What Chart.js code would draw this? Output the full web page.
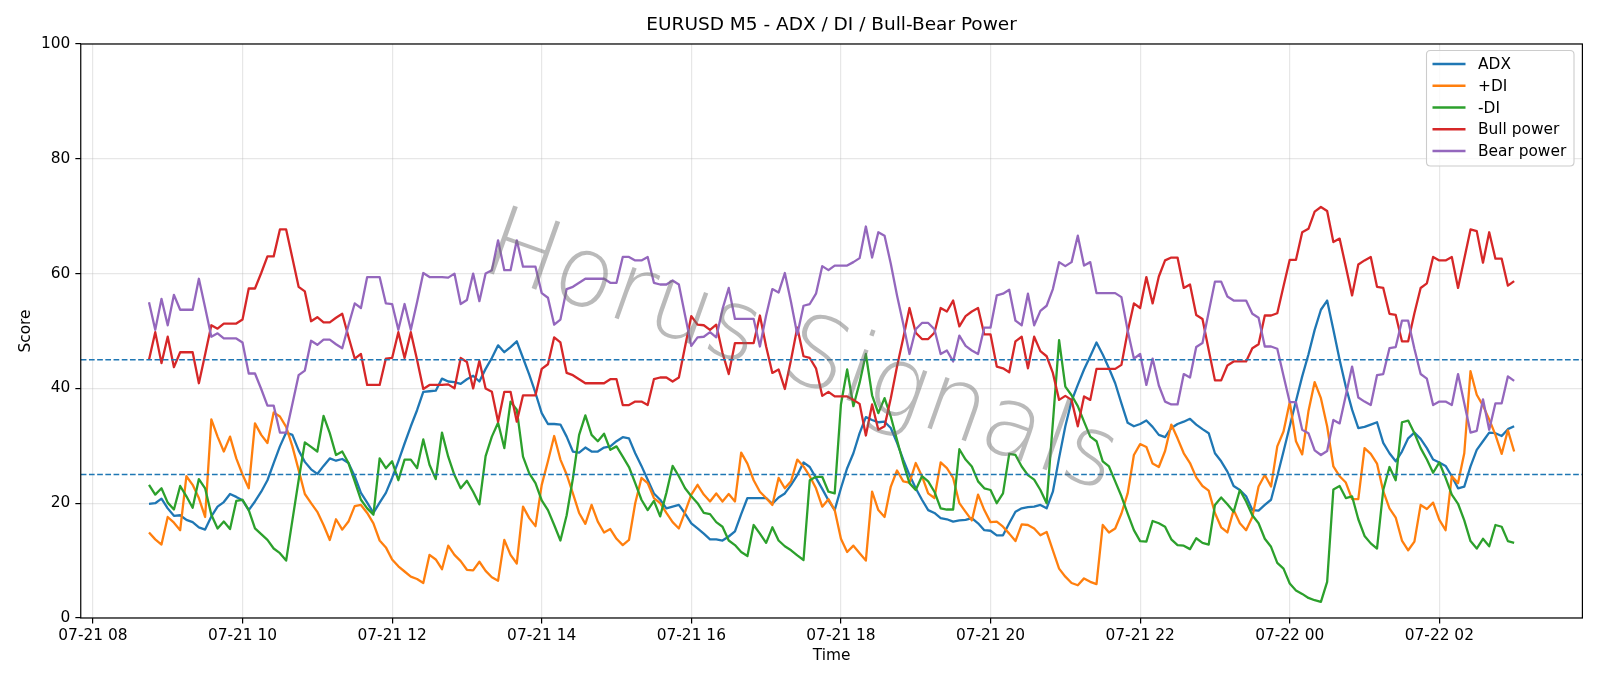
<!DOCTYPE html>
<html><head><meta charset="utf-8">
<script src="https://cdn.jsdelivr.net/npm/chart.js@4.4.0/dist/chart.umd.min.js"></script>
<style>
html,body{margin:0;padding:0;background:#fff;}#wrap{width:1600px;height:686px;}
@font-face{font-family:'WMThin';src:local('DejaVu Sans ExtraLight'),local('DejaVuSans-ExtraLight'),local('Roboto Thin'),local('Roboto-Thin'),local('Lato Hairline'),local('Lato-Hairline'),local('Lato Thin'),local('Lato-Thin'),local('Inter Thin'),local('Inter-Thin'),local('Noto Sans Thin'),local('NotoSans-Thin'),local('Noto Sans ExtraLight'),local('NotoSans-ExtraLight'),local('Open Sans Light'),local('OpenSans-Light'),local('Roboto Light'),local('Roboto-Light'),local('Lato Light'),local('Lato-Light');}
</style>
</head><body><div id="wrap"><canvas id="c" width="1600" height="686"></canvas></div>
<script>
// minutes from 07-21 00:00; first bar 07-21 08:45, 5-minute bars
const startMinute = 525;
const stepMinutes = 5;

const adx = [19.9,20,20.8,19.1,17.8,17.9,17.1,16.7,15.8,15.4,17.7,19.4,20.2,21.6,21.1,20.5,18.8,20.3,22,24,27,29.9,32.3,31.9,29.2,27.2,25.9,25.1,26.5,27.8,27.4,27.7,27,24.7,21.8,20.1,18.3,20.1,21.8,24.4,27.3,30.4,33.4,36.2,39.4,39.5,39.6,41.7,41.2,41.1,40.8,41.6,42.2,41.2,43.4,45.3,47.5,46.3,47.2,48.2,45.3,42.4,39.2,35.7,33.8,33.8,33.7,31.6,29,28.8,29.7,29,29,29.7,29.9,30.8,31.5,31.3,28.7,26.5,24.1,21.7,20.6,19.1,19.4,19.7,18.2,16.5,15.6,14.7,13.7,13.7,13.5,14.2,15.1,18.1,20.9,20.9,20.9,20.9,19.9,21,21.7,23.2,24.9,27.1,26.3,24.4,22.5,20.5,18.8,22.6,26.1,28.7,32.2,35,34.5,34.1,34.2,33.1,30.5,27.6,24.9,22.6,20.6,18.8,18.3,17.4,17.2,16.8,17,17.1,17.4,16.5,15.3,15.2,14.4,14.4,16.5,18.5,19.1,19.3,19.4,19.7,19.1,22,27.9,33.4,37.8,40.6,43.3,45.6,48,45.9,43.5,40.9,37.4,34,33.4,33.8,34.4,33.3,31.9,31.5,33.1,33.8,34.2,34.7,33.7,32.9,32.2,28.7,27.3,25.5,23,22.3,21.2,18.8,18.7,19.7,20.6,24.7,29,33.4,37.8,42.1,45.9,50.2,53.7,55.3,50.2,45,40.3,36.3,33.1,33.3,33.7,34.1,30.5,28.7,27.3,29,31.3,32.3,31.2,29.6,27.6,27.1,26.5,24.7,22.6,22.9,26.4,29.3,30.8,32.3,32.2,31.7,32.9,33.4];

const plusDI = [14.9,13.7,12.8,17.6,16.6,15.3,24.7,23.2,20.9,17.6,34.6,31.6,29,31.6,27.8,25,22.6,33.9,31.9,30.5,35.8,35.1,33.3,29.9,25.8,21.6,20,18.5,16.2,13.6,17.2,15.4,16.8,19.5,19.7,18.3,16.5,13.5,12.3,10.2,9,8.1,7.2,6.8,6.1,11,10.2,8.5,12.6,11,9.9,8.4,8.3,9.8,8.2,7.1,6.5,13.6,11,9.5,19.4,17.4,16,23.2,27.3,31.7,27.6,25,21.7,18.3,16.4,19.7,16.8,14.9,15.5,13.8,12.7,13.6,20,24.4,23.5,20.9,20,18.3,16.7,15.6,18.5,21.5,23.2,21.5,20.3,21.7,20.3,21.6,20.3,28.8,26.9,24,22,20.9,19.7,24.4,22.6,23.8,27.6,26.4,24.7,22.6,19.4,20.7,18.8,13.8,11.5,12.6,11.3,10,22,18.8,17.6,22.9,25.7,23.8,23.6,27,24.7,21.7,20.9,27.1,26.1,24.4,20,18.5,17,21.5,18.8,16.7,16.8,15.9,14.7,13.4,16.3,16.2,15.6,14.4,15,11.8,8.6,7.2,6.1,5.7,6.9,6.3,5.9,16.2,14.9,15.6,18.2,21.7,28.4,30.3,29.8,26.9,26.3,29.1,33.7,31.3,28.7,27,24.5,23,22.2,18.3,15.8,14.9,18.8,16.5,15.3,17.6,22.9,24.9,22.9,29.9,32.5,37.6,30.8,28.5,36,41.1,38.3,33.4,26.4,24.7,23.6,20.7,20.7,29.6,28.6,26.9,22.1,19.1,17.5,13.5,11.8,13.3,19.7,19,20.1,17.1,15.3,24.7,23.5,28.7,43,38.9,37,34.6,31.9,28.6,32.7,29];

const minusDI = [23.2,21.5,22.6,20.1,18.9,23,21.2,19.2,24.2,22.6,18,15.6,16.8,15.5,20.4,20.6,18.8,15.6,14.6,13.6,12.1,11.3,10,17,24,30.6,29.8,29,35.2,32.2,28.4,29,27,23.8,20.6,19.1,18,27.8,26.1,27.3,24,27.6,27.6,26.1,31.1,26.7,24.2,32.3,28.1,24.9,22.6,23.9,22,19.8,28.2,31.6,34,29.6,37.7,36.3,28.1,25.2,23.5,20.5,18.8,16.2,13.5,17.9,24.3,31.9,35.3,31.9,30.8,32.1,29.3,29.9,28.1,26.3,23.5,20.6,18.8,20.4,17.7,21.8,26.5,24.7,22.6,21.2,20,18.3,18.1,16.7,15.9,13.5,12.7,11.5,10.8,16.2,14.7,13.1,15.8,13.5,12.5,11.8,10.9,10.1,24,24.6,24.6,22,21.7,37.2,43.3,36.9,41,46,38.8,35.7,38.3,35.1,31,27,23.5,22.3,24.7,23.8,22,19.1,18.9,18.9,29.4,27.6,26.4,23.8,22.6,22.3,20,21.7,28.6,28.4,26.4,24.9,24.1,22.3,20,34,48.4,40.3,38.8,36.9,34.2,31.6,30.8,27.3,26.4,23.8,21.2,18.2,15.3,13.4,13.3,16.9,16.5,15.9,13.7,12.7,12.6,12,13.9,13.1,12.8,19.7,21,19.8,18.5,22.3,20.3,17.9,16.5,13.8,12.4,9.6,8.6,6,4.8,4.2,3.5,3.1,2.8,6.3,22.4,23,20.9,21.2,17.2,14.3,13,12.1,22.3,26.3,24,34.1,34.4,32.2,29.6,27.6,25.3,27.1,24.4,21.5,19.9,17,13.4,12.1,13.8,12.5,16.2,15.9,13.4,13.1];

const bullPower = [45,49.8,44.4,49,43.7,46.3,46.3,46.3,40.9,45.9,51,50.4,51.3,51.3,51.3,52,57.4,57.4,60.1,63,63,67.7,67.7,62.7,57.7,56.9,51.7,52.4,51.5,51.5,52.3,53,49,45.2,46,40.6,40.6,40.6,45.2,45.3,49.8,45.3,49.8,45,39.9,40.6,40.6,40.6,40.7,40,45.3,44.6,40,44.8,40,39.4,34.2,39.4,39.4,34.2,38.8,38.8,38.8,43.4,44.2,48.9,48,42.7,42.3,41.6,40.9,40.9,40.9,40.9,41.6,41.6,37.1,37.1,37.7,37.7,37.1,41.6,41.9,41.9,41.2,41.9,47.3,52.6,51.1,51,50.2,51.1,46.2,42.5,47.9,47.9,47.9,47.9,52.7,47.3,42.7,43.3,39.9,45,50.6,45.6,45.3,43.5,38.7,39.4,38.6,38.6,38.6,38,37.3,31.8,37.2,32.8,33.4,38.3,43.8,48.8,54,49.7,48.6,48.6,49.7,54,53.4,55.3,50.8,52.6,53.4,54,49.4,49.4,43.8,43.5,42.8,48.2,49,43.5,49,46.5,45.6,42.7,38,38.7,38,33.4,38.6,38,43.4,43.4,43.4,43.4,44.1,49.9,54.8,54,59.4,54.8,59.5,62.3,62.8,62.8,57.5,58.1,52.8,52.1,46.7,41.4,41.4,44,44.7,44.7,44.7,47,47.7,52.7,52.7,53.1,57.8,62.4,62.4,67.2,67.8,70.8,71.6,70.9,65.5,66.1,61.2,56.2,61.6,62.3,62.9,57.7,57.5,53,52.8,48.2,48.2,53.1,57.5,58.3,62.9,62.3,62.3,62.9,57.5,62.6,67.7,67.4,61.9,67.2,62.6,62.6,57.9,58.7];

const bearPower = [55,50.2,55.6,51,56.3,53.7,53.7,53.7,59.1,54.1,49,49.6,48.7,48.7,48.7,48,42.6,42.6,39.9,37,37,32.3,32.3,37.3,42.3,43.1,48.3,47.6,48.5,48.5,47.7,47,51,54.8,54,59.4,59.4,59.4,54.8,54.7,50.2,54.7,50.2,55,60.1,59.4,59.4,59.4,59.3,60,54.7,55.4,60,55.2,60,60.6,65.8,60.6,60.6,65.8,61.2,61.2,61.2,56.6,55.8,51.1,52,57.3,57.7,58.4,59.1,59.1,59.1,59.1,58.4,58.4,62.9,62.9,62.3,62.3,62.9,58.4,58.1,58.1,58.8,58.1,52.7,47.4,48.9,49,49.8,48.9,53.8,57.5,52.1,52.1,52.1,52.1,47.3,52.7,57.3,56.7,60.1,55,49.4,54.4,54.7,56.5,61.3,60.6,61.4,61.4,61.4,62,62.7,68.2,62.8,67.2,66.6,61.7,56.2,51.2,46,50.3,51.4,51.4,50.3,46,46.6,44.7,49.2,47.4,46.6,46,50.6,50.6,56.2,56.5,57.2,51.8,51,56.5,51,53.5,54.4,57.3,62,61.3,62,66.6,61.4,62,56.6,56.6,56.6,56.6,55.9,50.1,45.2,46,40.6,45.2,40.5,37.7,37.2,37.2,42.5,41.9,47.2,47.9,53.3,58.6,58.6,56,55.3,55.3,55.3,53,52.3,47.3,47.3,46.9,42.2,37.6,37.6,32.8,32.2,29.2,28.4,29.1,34.5,33.9,38.8,43.8,38.4,37.7,37.1,42.3,42.5,47,47.2,51.8,51.8,46.9,42.5,41.7,37.1,37.7,37.7,37.1,42.5,37.4,32.3,32.6,38.1,32.8,37.4,37.4,42.1,41.3];

const seriesNames = ["ADX", "+DI", "-DI", "Bull power", "Bear power"];
const seriesColors = ["#1f77b4", "#ff7f0e", "#2ca02c", "#d62728", "#9467bd"];
const tickMinutes = [480, 600, 720, 840, 960, 1080, 1200, 1320, 1440, 1560];
const tickLabels = ["07-21 08", "07-21 10", "07-21 12", "07-21 14", "07-21 16", "07-21 18", "07-21 20", "07-21 22", "07-22 00", "07-22 02"];
const yTicks = [0, 20, 40, 60, 80, 100];
const thresholds = [45, 25];
const titleText = "EURUSD M5 - ADX / DI / Bull-Bear Power";
const xTitle = "Time";
const yTitle = "Score";
const watermark = "Horus Signals";

const FONT = "'DejaVu Sans', 'Liberation Sans', sans-serif";
const series = [adx, plusDI, minusDI, bullPower, bearPower];
const times = adx.map((_, i) => startMinute + i * stepMinutes);
const xMin = 470.25, xMax = 1674.75;

const deco = {
  id: 'deco',
  afterDatasetsDraw(chart) {
    const {ctx, chartArea: a, scales: {y}} = chart;
    ctx.save();
    ctx.beginPath(); ctx.rect(a.left, a.top, a.right - a.left, a.bottom - a.top); ctx.clip();
    ctx.strokeStyle = '#1f77b4'; ctx.lineWidth = 1.5; ctx.setLineDash([5.7, 2.5]);
    thresholds.forEach(v => {
      const py = y.getPixelForValue(v);
      ctx.beginPath(); ctx.moveTo(a.left, py); ctx.lineTo(a.right, py); ctx.stroke();
    });
    ctx.restore();
  },
  afterDraw(chart) {
    const {ctx, chartArea: a} = chart;
    // watermark (thin font, scaled to the reference's text length)
    ctx.save();
    ctx.font = `100px WMThin, 'DejaVu Sans'`;
    const w100 = ctx.measureText(watermark).width;
    const fs = 100 * 668 / w100;
    ctx.font = `${fs}px WMThin, 'DejaVu Sans'`;
    ctx.translate(800, 356);
    ctx.rotate(19.5 * Math.PI / 180);
    ctx.fillStyle = 'rgba(110,110,110,0.48)';
    ctx.textAlign = 'center'; ctx.textBaseline = 'middle';
    ctx.fillText(watermark, 0, 0);
    ctx.restore();
    // frame
    ctx.save();
    ctx.strokeStyle = '#000'; ctx.lineWidth = 1.2;
    ctx.strokeRect(a.left, a.top, a.right - a.left, a.bottom - a.top);
    ctx.restore();
    // title and axis titles
    ctx.save();
    ctx.fillStyle = '#000'; ctx.textAlign = 'center'; ctx.textBaseline = 'middle';
    ctx.font = `18.5px ${FONT}`;
    ctx.fillText(titleText, (a.left + a.right) / 2, 25.5);
    ctx.font = `15.4px ${FONT}`;
    ctx.fillText(xTitle, (a.left + a.right) / 2, 656);
    ctx.translate(25.5, (a.top + a.bottom) / 2);
    ctx.rotate(-Math.PI / 2);
    ctx.fillText(yTitle, 0, 0);
    ctx.restore();
    // legend
    ctx.save();
    const bx = 1426.5, by = 50.5, bw = 147.5, bh = 115.5, r = 4;
    ctx.beginPath();
    ctx.moveTo(bx + r, by); ctx.lineTo(bx + bw - r, by); ctx.quadraticCurveTo(bx + bw, by, bx + bw, by + r);
    ctx.lineTo(bx + bw, by + bh - r); ctx.quadraticCurveTo(bx + bw, by + bh, bx + bw - r, by + bh);
    ctx.lineTo(bx + r, by + bh); ctx.quadraticCurveTo(bx, by + bh, bx, by + bh - r);
    ctx.lineTo(bx, by + r); ctx.quadraticCurveTo(bx, by, bx + r, by); ctx.closePath();
    ctx.fillStyle = 'rgba(255,255,255,0.8)'; ctx.fill();
    ctx.strokeStyle = '#cccccc'; ctx.lineWidth = 1.1; ctx.stroke();
    ctx.font = `15.4px ${FONT}`; ctx.textBaseline = 'middle'; ctx.textAlign = 'left';
    seriesNames.forEach((n, k) => {
      const yy = 64 + k * 21.75;
      ctx.strokeStyle = seriesColors[k]; ctx.lineWidth = 2.3;
      ctx.beginPath(); ctx.moveTo(1432.5, yy); ctx.lineTo(1465.5, yy); ctx.stroke();
      ctx.fillStyle = '#000'; ctx.fillText(n, 1478, yy + 1);
    });
    ctx.restore();
  }
};

const tickFont = {family: FONT, size: 15.4};
const chart = new Chart(document.getElementById('c').getContext('2d'), {
  type: 'line',
  data: {
    datasets: series.map((s, k) => ({
      label: seriesNames[k],
      data: s.map((v, i) => ({x: times[i], y: v})),
      borderColor: seriesColors[k],
      backgroundColor: seriesColors[k],
      borderWidth: 2.3,
      pointRadius: 0,
      tension: 0,
      fill: false,
      order: 5 - k,
      borderJoinStyle: 'round',
      borderCapStyle: 'butt'
    }))
  },
  options: {
    responsive: false,
    animation: false,
    devicePixelRatio: 1,
    layout: {padding: {top: 44, right: 17.6, left: 0, bottom: 0}},
    plugins: {legend: {display: false}, title: {display: false}, tooltip: {enabled: false}},
    scales: {
      x: {
        type: 'linear', min: xMin, max: xMax,
        afterBuildTicks: s => { s.ticks = tickMinutes.map(v => ({value: v})); },
        ticks: {
          callback: v => tickLabels[tickMinutes.indexOf(v)],
          color: '#000', font: tickFont, maxRotation: 0, autoSkip: false, padding: 3
        },
        grid: {color: 'rgba(176,176,176,0.3)', lineWidth: 1.2, tickColor: '#000', tickLength: 5.4, tickWidth: 1.2},
        border: {display: false},
        afterFit: s => { s.height = 68; }
      },
      y: {
        min: 0, max: 100,
        afterBuildTicks: s => { s.ticks = yTicks.map(v => ({value: v})); },
        ticks: {color: '#000', font: tickFont, padding: 5},
        grid: {color: 'rgba(176,176,176,0.3)', lineWidth: 1.2, tickColor: '#000', tickLength: 5.4, tickWidth: 1.2},
        border: {display: false},
        afterFit: s => { s.width = 80.75; }
      }
    }
  },
  plugins: [deco]
});
if (document.fonts && document.fonts.load) {
  document.fonts.load('100px WMThin', watermark).then(() => chart.draw()).catch(() => {});
}
</script></body></html>
